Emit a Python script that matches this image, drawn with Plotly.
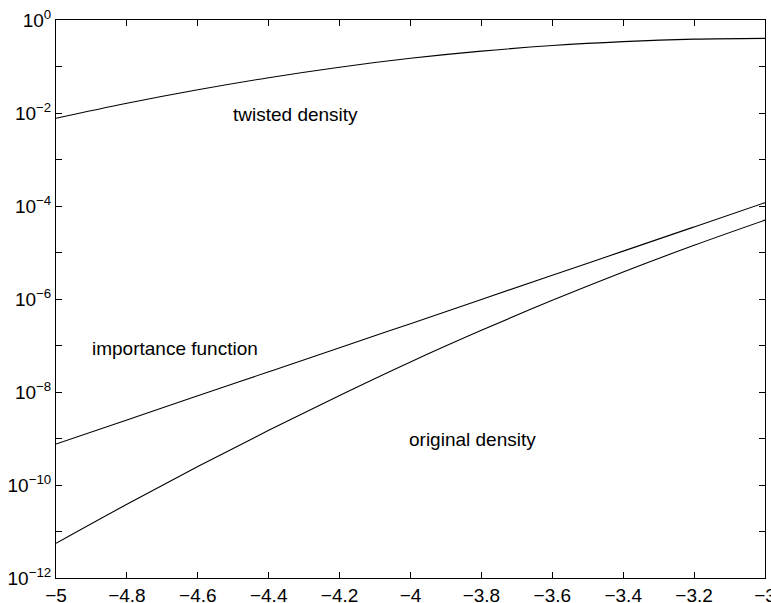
import plotly.graph_objects as go

x_vals = [-5.0, -4.8, -4.6, -4.4, -4.2, -4.0, -3.8, -3.6, -3.4, -3.2, -3.0]
twisted_density = [7.69e-3, 1.62e-2, 3.16e-2, 5.75e-2, 9.66e-2, 0.150, 0.214, 0.282, 0.343, 0.387, 0.403]
importance_function = [7.62e-10, 2.51e-9, 8.32e-9, 2.72e-8, 8.95e-8, 2.95e-7, 9.77e-7, 3.24e-6, 1.07e-5, 3.55e-5, 1.18e-4]
original_density = [5.57e-12, 3.85e-11, 2.49e-10, 1.50e-9, 8.43e-9, 4.43e-8, 2.12e-7, 9.35e-7, 3.81e-6, 1.43e-5, 4.97e-5]

x_tick_vals = [-5.0, -4.8, -4.6, -4.4, -4.2, -4.0, -3.8, -3.6, -3.4, -3.2, -3.0]
x_tick_text = ["\u22125", "\u22124.8", "\u22124.6", "\u22124.4", "\u22124.2", "\u22124",
               "\u22123.8", "\u22123.6", "\u22123.4", "\u22123.2", "\u22123"]
y_major_exponents = [-12, -10, -8, -6, -4, -2, 0]
y_minor_exponents = [-11, -9, -7, -5, -3, -1]
y_tick_vals = [10.0 ** e for e in y_major_exponents]
y_tick_text = ["10<sup>%s</sup>" % str(e).replace("-", "\u2212") for e in y_major_exponents]
y_minor_vals = [10.0 ** e for e in y_minor_exponents]

labels = [
    ("twisted density", -4.505, -2.04),
    ("importance function", -4.905, -7.07),
    ("original density", -4.01, -9.03),
]

FONT = "Liberation Sans, Arial, sans-serif"
fig = go.Figure()
for ys in (twisted_density, importance_function, original_density):
    fig.add_trace(go.Scatter(x=x_vals, y=ys, mode="lines",
                             line=dict(color="black", width=1.1, shape="spline"),
                             showlegend=False, hoverinfo="skip"))

for text, xx, yy in labels:
    fig.add_annotation(x=xx, y=yy, xref="x", yref="y", text=text, showarrow=False,
                       xanchor="left", yanchor="middle",
                       font=dict(family=FONT, size=19, color="black"))

fig.update_layout(
    width=771, height=603,
    margin=dict(l=56, r=6, t=20, b=25),
    paper_bgcolor="white", plot_bgcolor="white",
    font=dict(family=FONT, size=19, color="black"),
)
fig.update_xaxes(range=[-5, -3], tickvals=x_tick_vals, ticktext=x_tick_text,
                 ticks="inside", ticklen=6, tickcolor="black", tickwidth=1,
                 showline=True, linecolor="black", linewidth=1, mirror="ticks",
                 showgrid=False, zeroline=False, automargin=False,
                 ticklabeloverflow="allow")
fig.update_yaxes(type="log", range=[-12, 0], tickvals=y_tick_vals, ticktext=y_tick_text,
                 ticks="inside", ticklen=6, tickcolor="black", tickwidth=1,
                 showline=True, linecolor="black", linewidth=1, mirror="ticks",
                 showgrid=False, zeroline=False, automargin=False,
                 ticklabeloverflow="allow",
                 minor=dict(tickvals=y_minor_vals, ticks="inside", ticklen=6,
                            tickcolor="black", tickwidth=1, showgrid=False))

fig.write_html("out.html")
